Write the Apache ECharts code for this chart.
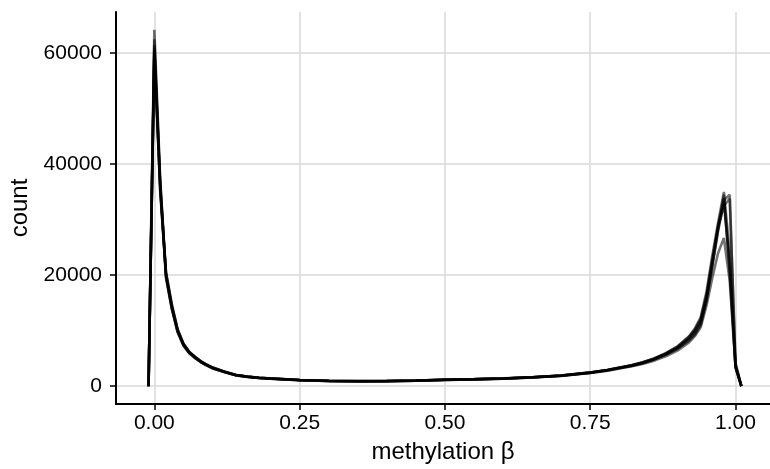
<!DOCTYPE html>
<html>
<head>
<meta charset="utf-8">
<script src="https://cdn.jsdelivr.net/npm/echarts@6/dist/echarts.min.js"></script>
<style>
  html, body { margin: 0; padding: 0; background: #fff; }
  #chart { width: 770px; height: 469px; }
</style>
</head>
<body>
<div id="chart"></div>
<script>
// bin centres (beta) shared by every sample
const betas = [-0.01, 0, 0.01, 0.02, 0.03, 0.04, 0.05, 0.06, 0.07, 0.08, 0.09, 0.10, 0.12, 0.14, 0.16, 0.18, 0.20,
    0.25, 0.30, 0.35, 0.40, 0.45, 0.50, 0.55, 0.60, 0.65, 0.70, 0.75, 0.78, 0.80, 0.82, 0.84, 0.86, 0.88, 0.90,
    0.92, 0.93, 0.94, 0.95, 0.96, 0.97, 0.98, 0.99, 1.00, 1.01];

// counts per sample
const sample1 = [0, 61500, 36000, 20000, 14300, 10000, 7500, 6100, 5200, 4400, 3800, 3300, 2600, 2000, 1700, 1500, 1380,
    1100, 950, 900, 920, 1000, 1150, 1250, 1380, 1600, 1900, 2450, 2900, 3300, 3700, 4200, 4900, 5800, 6900,
    8600, 9800, 11600, 15800, 22000, 28500, 34500, 20000, 3600, 0];
const sample2 = [0, 59800, 35200, 20600, 14800, 10300, 7700, 6200, 5300, 4500, 3900, 3400, 2650, 2050, 1750, 1520, 1400,
    1120, 970, 920, 940, 1020, 1160, 1270, 1400, 1620, 1920, 2480, 2950, 3350, 3750, 4300, 5000, 5900, 7100,
    8900, 10200, 12100, 16500, 22800, 28800, 32500, 33800, 4200, 0];
const sample3 = [0, 62500, 37000, 19500, 13900, 9700, 7300, 5900, 5050, 4300, 3700, 3200, 2550, 1950, 1650, 1470, 1350,
    1080, 930, 880, 900, 980, 1130, 1230, 1360, 1580, 1870, 2400, 2850, 3250, 3650, 4150, 4800, 5700, 6800,
    8400, 9500, 11200, 15300, 21500, 28000, 33000, 22000, 3400, 0];
const sample4 = [0, 60500, 36500, 20300, 14500, 10100, 7600, 6150, 5250, 4450, 3850, 3350, 2620, 2020, 1720, 1510, 1390,
    1110, 960, 910, 930, 1010, 1150, 1260, 1390, 1610, 1910, 2460, 2920, 3320, 3720, 4250, 4950, 5850, 7000,
    8700, 10000, 11900, 16200, 22500, 29000, 33500, 34500, 3900, 0];
const sample5 = [0, 61000, 35500, 19800, 14100, 9900, 7450, 6050, 5150, 4380, 3780, 3280, 2580, 1990, 1690, 1490, 1370,
    1090, 945, 895, 915, 995, 1140, 1240, 1370, 1590, 1880, 2420, 2870, 3260, 3660, 4150, 4820, 5650, 6700,
    8200, 9300, 11000, 15500, 21800, 28200, 33800, 21500, 3500, 0];
const sample6 = [0, 60000, 36200, 20400, 14600, 10200, 7650, 6180, 5280, 4480, 3870, 3370, 2640, 2030, 1730, 1515, 1395,
    1115, 965, 915, 935, 1015, 1160, 1265, 1395, 1615, 1915, 2470, 2930, 3330, 3740, 4280, 5000, 5950, 7150,
    9000, 10400, 12400, 17000, 23500, 29500, 35000, 24000, 3700, 0];
const sample7 = [0, 64200, 37500, 19800, 14000, 9800, 7400, 6000, 5100, 4350, 3750, 3250, 2570, 1980, 1680, 1480, 1360,
    1090, 940, 890, 910, 990, 1130, 1230, 1360, 1570, 1850, 2380, 2800, 3180, 3550, 4000, 4600, 5400, 6400,
    7900, 9000, 10600, 14500, 19500, 24000, 26700, 19000, 3300, 0];

const samples = [sample7, sample1, sample2, sample3, sample4, sample5, sample6];

const xTicks = [0, 0.25, 0.5, 0.75, 1];
const yTicks = [0, 20000, 40000, 60000];

const font = 'Liberation Sans';
const gridLine = { show: true, lineStyle: { color: '#d9d9d9', width: 1.5 } };

let chart = echarts.init(document.getElementById('chart'));
chart.setOption({
    animation: false,
    grid: { left: 115, right: 0, top: 12, bottom: 65 },
    xAxis: {
        type: 'value',
        min: -0.066,
        max: 1.0593,
        name: 'methylation β',
        nameLocation: 'middle',
        nameGap: 36,
        nameTextStyle: { fontFamily: font, fontSize: 24, color: '#000' },
        axisLine: { onZero: false, lineStyle: { color: '#000', width: 2 } },
        axisTick: { customValues: xTicks, length: 6, lineStyle: { color: '#000', width: 1.5 } },
        axisLabel: {
            customValues: xTicks, margin: 9, fontFamily: font, fontSize: 21, color: '#000',
            formatter: v => v.toFixed(2)
        },
        splitLine: gridLine
    },
    yAxis: {
        type: 'value',
        min: -3210,
        max: 67410,
        name: 'count',
        nameLocation: 'middle',
        nameGap: 84,
        nameTextStyle: { fontFamily: font, fontSize: 24, color: '#000' },
        axisLine: { show: true, onZero: false, lineStyle: { color: '#000', width: 2 } },
        axisTick: { show: true, customValues: yTicks, length: 6, lineStyle: { color: '#000', width: 1.5 } },
        axisLabel: {
            customValues: yTicks, margin: 14, fontFamily: font, fontSize: 21, color: '#000',
            formatter: v => String(v)
        },
        splitLine: gridLine
    },
    series: samples.map(s => ({
        type: 'line',
        data: betas.map((b, i) => [b, s[i]]),
        showSymbol: false,
        silent: true,
        lineStyle: { color: 'rgba(0,0,0,0.55)', width: 2.6 }
    }))
});
</script>
</body>
</html>
